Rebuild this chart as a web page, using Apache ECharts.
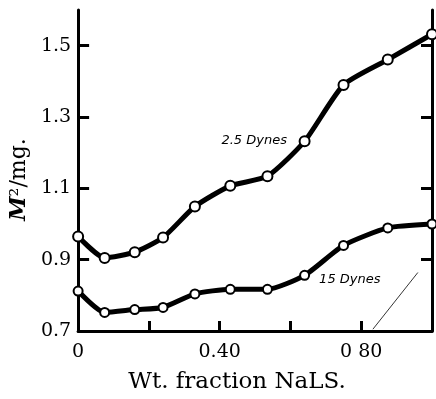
<!DOCTYPE html>
<html>
<head>
<meta charset="utf-8">
<script src="https://cdn.jsdelivr.net/npm/echarts@6/dist/echarts.min.js"></script>
<style>
  html, body { margin: 0; padding: 0; background: #fff; }
  #chart { width: 436px; height: 399px; }
</style>
</head>
<body>
<div id="chart"></div>
<script>
// weight fraction of NaLS
const fractions = [0, 0.075, 0.16, 0.24, 0.33, 0.43, 0.535, 0.64, 0.75, 0.875, 1.0];
// area (M²/mg.) at 2.5 dynes
const area25 = [0.965, 0.905, 0.921, 0.962, 1.049, 1.107, 1.134, 1.232, 1.39, 1.461, 1.532];
// area (M²/mg.) at 15 dynes
const area15 = [0.812, 0.752, 0.76, 0.766, 0.804, 0.817, 0.817, 0.856, 0.94, 0.989, 1.0];

const yTicks = [0.9, 1.1, 1.3, 1.5];
const yLabels = [0.7, 0.9, 1.1, 1.3, 1.5];
const xTicks = [0.2, 0.4, 0.6, 0.8];
const xLabels = { 0: '0', 0.4: '0.40', 0.8: '0 80' };

// stray pen line near the lower right corner
const strayLine = [[0.833, 0.705], [0.96, 0.864]];

const chart = echarts.init(document.getElementById('chart'));

const serif = 'DejaVu Serif';

const pairs = (ys) => fractions.map((x, i) => [x, ys[i]]);

chart.setOption({
  animation: false,
  grid: { left: 75, top: 10, right: 4, bottom: 59 },
  xAxis: {
    type: 'value',
    min: 0,
    max: 1,
    axisLine: { lineStyle: { color: '#000', width: 3 } },
    axisTick: {
      inside: true, length: 10, customValues: xTicks,
      lineStyle: { color: '#000', width: 3 }
    },
    axisLabel: {
      customValues: [0, 0.4, 0.8],
      formatter: v => xLabels[v] !== undefined ? xLabels[v] : '',
      color: '#000', fontFamily: serif, fontSize: 19, margin: 12
    },
    splitLine: { show: false },
    name: 'Wt. fraction NaLS.',
    nameLocation: 'middle',
    nameGap: 40,
    nameTextStyle: { color: '#000', fontFamily: serif, fontSize: 23, padding: [0, 36, 0, 0] }
  },
  yAxis: [{
    type: 'value',
    min: 0.7,
    max: 1.6,
    axisLine: { lineStyle: { color: '#000', width: 3 } },
    axisTick: {
      inside: true, length: 11, customValues: yTicks,
      lineStyle: { color: '#000', width: 3 }
    },
    axisLabel: {
      customValues: yLabels,
      formatter: v => v.toFixed(1),
      color: '#000', fontFamily: serif, fontSize: 19, margin: 7
    },
    splitLine: { show: false },
    name: '{m|M}{n|²/mg.}',
    nameLocation: 'middle',
    nameGap: 47,
    nameRotate: 90,
    nameTextStyle: {
      padding: [0, 18, 0, 0],
      rich: {
        m: { fontFamily: serif, fontStyle: 'italic', fontWeight: 'bold', fontSize: 22, color: '#000' },
        n: { fontFamily: serif, fontSize: 22, color: '#000' }
      }
    }
  }, {
    type: 'value',
    position: 'right',
    min: 0.7,
    max: 1.6,
    axisLine: { show: true, lineStyle: { color: '#000', width: 3 } },
    axisTick: {
      show: true, inside: true, length: 11, customValues: yTicks,
      lineStyle: { color: '#000', width: 3 }
    },
    axisLabel: { show: false },
    splitLine: { show: false }
  }],
  series: [{
    name: '2.5 Dynes',
    type: 'line',
    data: pairs(area25),
    smooth: 0.2,
    symbol: 'circle',
    symbolSize: 10,
    lineStyle: { color: '#000', width: 5 },
    itemStyle: { color: '#fff', borderColor: '#000', borderWidth: 2 },
    z: 3,
    markPoint: {
      symbol: 'circle', symbolSize: 0,
      label: {
        show: true, position: 'right', distance: 0,
        formatter: '2.5 Dynes',
        fontFamily: 'DejaVu Sans', fontStyle: 'italic', fontSize: 13, color: '#000'
      },
      data: [{ coord: [0.405, 1.235] }]
    }
  }, {
    name: '15 Dynes',
    type: 'line',
    data: pairs(area15),
    smooth: 0.2,
    symbol: 'circle',
    symbolSize: 9,
    lineStyle: { color: '#000', width: 5 },
    itemStyle: { color: '#fff', borderColor: '#000', borderWidth: 2 },
    z: 3,
    markPoint: {
      symbol: 'circle', symbolSize: 0,
      label: {
        show: true, position: 'right', distance: 0,
        formatter: '15 Dynes',
        fontFamily: 'DejaVu Sans', fontStyle: 'italic', fontSize: 13, color: '#000'
      },
      data: [{ coord: [0.681, 0.845] }]
    },
    markLine: {
      silent: true,
      symbol: 'none',
      label: { show: false },
      lineStyle: { color: '#000', width: 0.8, type: 'solid' },
      data: [[{ coord: strayLine[0] }, { coord: strayLine[1] }]]
    }
  }]
});
</script>
</body>
</html>
